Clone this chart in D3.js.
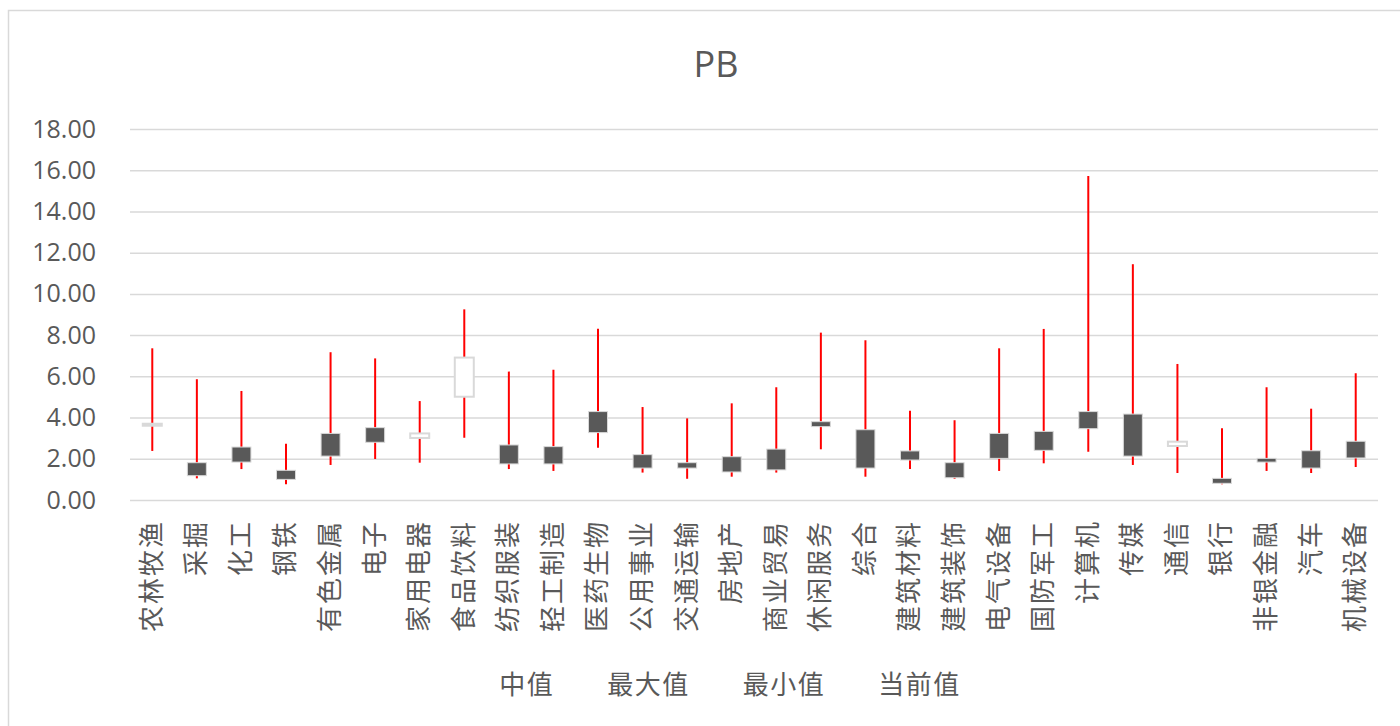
<!DOCTYPE html>
<html lang="zh">
<head>
    <meta charset="UTF-8">
    <title>PB</title>
    <style>
        body { margin: 0; background: #fff; }
        svg { display: block; }
        text { fill: #595959; }
    </style>
</head>
<body>
    <svg id="chart" width="1400" height="726"></svg>

<script src="https://cdn.jsdelivr.net/npm/d3@7/dist/d3.min.js"></script>
<script>
    let categories = ["农林牧渔", "采掘", "化工", "钢铁", "有色金属", "电子", "家用电器", "食品饮料",
        "纺织服装", "轻工制造", "医药生物", "公用事业", "交通运输", "房地产", "商业贸易", "休闲服务",
        "综合", "建筑材料", "建筑装饰", "电气设备", "国防军工", "计算机", "传媒", "通信", "银行",
        "非银金融", "汽车", "机械设备"]
    // 中值 / 最大值 / 最小值 / 当前值
    let midVals = [3.62, 1.81, 2.57, 1.44, 3.23, 3.51, 3.01, 5.01, 2.67, 2.59, 4.29, 2.20, 1.81, 2.10,
        2.47, 3.80, 3.41, 2.38, 1.81, 3.23, 3.33, 4.29, 4.17, 2.62, 1.05, 2.02, 2.39, 2.85]
    let maxVals = [7.36, 5.86, 5.29, 2.73, 7.17, 6.87, 4.80, 9.25, 6.23, 6.32, 8.31, 4.51, 3.96, 4.69,
        5.47, 8.12, 7.75, 4.33, 3.87, 7.36, 8.30, 15.72, 11.44, 6.60, 3.48, 5.47, 4.43, 6.15]
    let minVals = [2.38, 1.05, 1.50, 0.76, 1.70, 1.99, 1.81, 3.02, 1.50, 1.41, 2.54, 1.33, 1.03, 1.13,
        1.33, 2.46, 1.13, 1.50, 1.03, 1.41, 1.78, 2.34, 1.70, 1.31, 0.76, 1.41, 1.31, 1.60]
    let curVals = [3.70, 1.18, 1.84, 1.00, 2.13, 2.80, 3.23, 6.91, 1.75, 1.75, 3.27, 1.55, 1.55, 1.36,
        1.46, 3.56, 1.55, 1.94, 1.08, 2.02, 2.41, 3.46, 2.13, 2.83, 0.81, 1.84, 1.55, 2.04]
    let yTicks = [0, 2, 4, 6, 8, 10, 12, 14, 16, 18]
    let legendNames = ["中值", "最大值", "最小值", "当前值"]

    let rows = categories.map((c, i) => ({
        name: c, open: midVals[i], high: maxVals[i], low: minVals[i], close: curVals[i]
    }))

    let svg = d3.select("#chart")
    let cjk = "'Noto Sans CJK SC', 'Noto Sans', sans-serif"

    // chart frame
    svg.append("rect")
        .attr("x", 8.5).attr("y", 10.5)
        .attr("width", 1420).attr("height", 740)
        .attr("fill", "none").attr("stroke", "#d9d9d9").attr("stroke-width", 1.5)

    let xScale = d3.scaleBand().domain(categories).range([130, 1378])
    let yScale = d3.scaleLinear().domain([0, 18]).range([500, 129])

    // gridlines + y labels
    let yAxis = d3.axisLeft(yScale)
        .tickValues(yTicks)
        .tickSize(-(1378 - 130))
        .tickPadding(34)
        .tickFormat(d3.format(".2f"))

    let yAxisGroup = svg.append("g")
        .attr("transform", "translate(130,0)")
        .call(yAxis)
    yAxisGroup.select(".domain").remove()
    yAxisGroup.selectAll("line").attr("stroke", "#d9d9d9").attr("stroke-width", 1.5)
    yAxisGroup.selectAll("text")
        .style("font-family", "'Open Sans', 'Noto Sans', sans-serif")
        .style("font-size", "25px")
        .attr("fill", "#595959")

    // high-low lines
    let body = svg.append("g")
    body.selectAll("line.hl")
        .data(rows)
        .enter()
        .append("line")
        .attr("class", "hl")
        .attr("x1", d => xScale(d.name) + xScale.bandwidth() / 2)
        .attr("x2", d => xScale(d.name) + xScale.bandwidth() / 2)
        .attr("y1", d => yScale(d.high))
        .attr("y2", d => yScale(d.low))
        .attr("stroke", "#ff0000")
        .attr("stroke-width", 2)

    // up/down boxes
    let boxW = 19
    body.selectAll("rect.box")
        .data(rows)
        .enter()
        .append("rect")
        .attr("class", "box")
        .attr("x", d => xScale(d.name) + xScale.bandwidth() / 2 - boxW / 2)
        .attr("y", d => yScale(Math.max(d.open, d.close)))
        .attr("width", boxW)
        .attr("height", d => Math.max(2, yScale(Math.min(d.open, d.close)) - yScale(Math.max(d.open, d.close))))
        .attr("fill", d => d.close > d.open ? "#ffffff" : "#595959")
        .attr("stroke", "#d9d9d9")
        .attr("stroke-width", d => d.close > d.open ? 2 : 1)

    // category labels
    svg.append("g")
        .selectAll("text")
        .data(categories)
        .enter()
        .append("text")
        .attr("transform", d => `translate(${xScale(d) + xScale.bandwidth() / 2 - 1},520) rotate(-90)`)
        .attr("text-anchor", "end")
        .attr("dy", "0.36em")
        .style("font-family", cjk)
        .style("font-size", "26px")
        .style("letter-spacing", "2px")
        .text(d => d)

    // title
    svg.append("text")
        .attr("x", 716).attr("y", 77)
        .attr("text-anchor", "middle")
        .style("font-family", "'Open Sans', 'Noto Sans', sans-serif")
        .style("font-size", "36px")
        .text("PB")

    // legend (text only, like Excel stock chart)
    let legend = svg.append("g")
    let lx = 0
    let gap = 53
    let items = legend.selectAll("text")
        .data(legendNames)
        .enter()
        .append("text")
        .attr("y", 694)
        .style("font-family", cjk)
        .style("font-size", "26px")
        .style("letter-spacing", "1.5px")
        .text(d => d)
    items.each(function () {
        let w = this.getComputedTextLength()
        d3.select(this).attr("x", lx)
        lx += w + gap
    })
    let total = lx - gap
    legend.attr("transform", `translate(${730 - total / 2},0)`)
</script>
</body>
</html>
